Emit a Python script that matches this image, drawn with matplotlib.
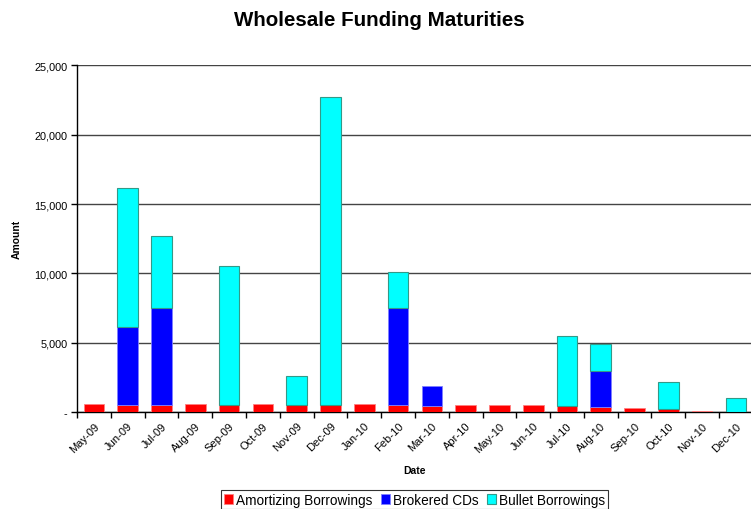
import matplotlib
matplotlib.use("Agg")
from matplotlib import pyplot as plt
from matplotlib.ticker import FuncFormatter
import numpy as np

plt.rcParams["font.family"] = ["Liberation Sans", "DejaVu Sans"]

months = ["May-09", "Jun-09", "Jul-09", "Aug-09", "Sep-09", "Oct-09", "Nov-09",
          "Dec-09", "Jan-10", "Feb-10", "Mar-10", "Apr-10", "May-10", "Jun-10",
          "Jul-10", "Aug-10", "Sep-10", "Oct-10", "Nov-10", "Dec-10"]

amortizing = [580, 530, 530, 580, 530, 580, 530, 530, 580, 530,
              410, 500, 480, 480, 430, 380, 310, 190, 70, 0]
brokered_cds = [0, 5570, 7010, 0, 0, 0, 0, 0, 0, 6960,
                1460, 0, 0, 0, 0, 2550, 0, 0, 0, 0]
bullet = [0, 10020, 5120, 0, 9990, 0, 2040, 22210, 0, 2580,
          0, 0, 0, 0, 5020, 1970, 0, 2000, 0, 990]


def fmt_amount(v, pos):
    if v == 0:
        return "-"
    return f"{v:,.0f}"


def nz(a):
    # empty segments get no bar at all, so no stray edge lines
    a = np.asarray(a, dtype=float)
    return np.where(a > 0, a, np.nan)


fig = plt.figure(figsize=(7.51, 5.10), dpi=100)
ax = fig.add_axes([0.1025, 0.19, 0.90, 0.68])

x = np.arange(len(months))
w = 0.61
amort = np.array(amortizing, dtype=float)
brok = np.array(brokered_cds, dtype=float)
bul = np.array(bullet, dtype=float)

ax.bar(x, nz(amort), w, color="#ff0000", edgecolor="#ff8080", linewidth=0.6,
       label="Amortizing Borrowings", zorder=3)
ax.bar(x, nz(brok), w, bottom=amort, color="#0000ff", edgecolor="#8080ff",
       linewidth=0.6, label="Brokered CDs", zorder=3)
ax.bar(x, nz(bul), w, bottom=amort + brok, color="#00ffff", edgecolor="#339988",
       linewidth=0.8, label="Bullet Borrowings", zorder=3)

ax.set_xlim(-0.5, len(months) - 0.5)
ax.set_ylim(0, 25000)
ax.set_yticks(np.arange(0, 25001, 5000))
ax.yaxis.set_major_formatter(FuncFormatter(fmt_amount))
ax.yaxis.grid(True, color="#444444", linewidth=1.0, zorder=0)

# ticks sit between the categories, labels under each bar
ax.set_xticks(np.arange(-0.5, len(months) - 0.5 + 0.01, 1.0))
ax.set_xticklabels([])
ax.set_xticks(x, minor=True)
ax.set_xticklabels(months, minor=True, rotation=45, ha="right",
                   rotation_mode="anchor", fontsize=8)
ax.tick_params(axis="x", which="minor", length=0, pad=6)
ax.tick_params(axis="x", which="major", length=4, direction="out", width=1)
ax.tick_params(axis="y", length=4, width=1, labelsize=7.8, pad=3)

for side in ["top", "right"]:
    ax.spines[side].set_visible(False)
ax.spines["left"].set_linewidth(1.0)
ax.spines["bottom"].set_linewidth(1.0)

ax.set_ylabel("Amount", fontsize=7.5, fontweight="bold", labelpad=9)
ax.set_xlabel("Date", fontsize=7.5, fontweight="bold", labelpad=8)
fig.suptitle("Wholesale Funding Maturities", fontsize=14.8, fontweight="bold",
             x=0.505, y=0.978)

leg = fig.legend(loc="lower center", bbox_to_anchor=(0.552, -0.006), ncol=3,
                 fontsize=9.8, frameon=True, fancybox=False, handlelength=0.7,
                 handleheight=0.7, handletextpad=0.2, columnspacing=0.6,
                 borderpad=0.2, borderaxespad=0.2)
leg.get_frame().set_edgecolor("#000000")
leg.get_frame().set_linewidth(0.8)

fig.savefig("out.png", dpi=100)
